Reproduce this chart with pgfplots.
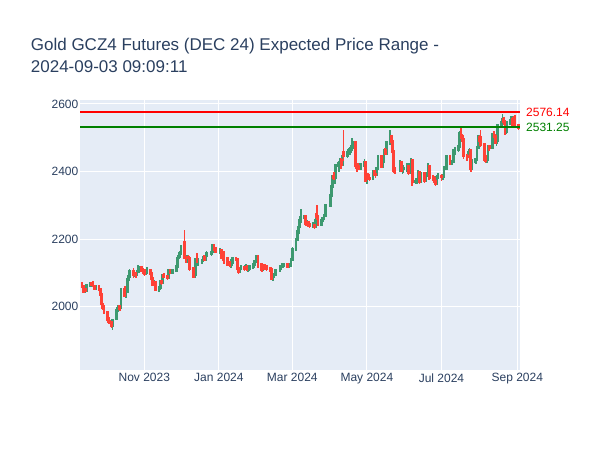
\documentclass[border=0pt]{standalone}
\usepackage{pgfplots}
\pgfplotsset{compat=1.18}
\usepackage{pgfplotstable}
\usepackage{fontspec}
\setmainfont{Liberation Sans}
\definecolor{plotbg}{HTML}{E5ECF6}
\definecolor{txt}{HTML}{2A3F5F}
\definecolor{inc}{HTML}{3D9970}
\definecolor{dec}{HTML}{FF4136}
\definecolor{lvlgreen}{HTML}{008000}
\definecolor{lvlred}{HTML}{FF0000}
% d = days since 2023-11-01
\pgfplotstableread{
d o h l c
-51 2066 2074 2056 2060
-50 2060 2063 2041 2045
-49 2046 2054 2040 2050
-48 2050 2056 2043 2048
-47 2048 2066 2045 2062
-44 2062 2071 2058 2068
-43 2068 2073 2062 2066
-42 2067 2076 2058 2062
-41 2060 2064 2050 2054
-40 2055 2064 2051 2060
-37 2060 2062 2046 2050
-36 2050 2053 2032 2036
-35 2036 2040 2002 2008
-34 2008 2012 1990 1996
-33 1998 2004 1978 1984
-30 1982 1986 1958 1962
-29 1962 1968 1950 1956
-28 1956 1962 1948 1954
-27 1954 1958 1936 1944
-26 1944 1964 1932 1960
-23 1966 1992 1962 1988
-22 1988 1998 1982 1994
-21 1994 2004 1990 2000
-20 2000 2004 1986 1994
-19 1996 2056 1994 2050
-16 2050 2062 2028 2034
-15 2034 2050 2026 2046
-14 2046 2084 2042 2080
-13 2080 2096 2074 2090
-12 2090 2112 2086 2104
-9 2104 2114 2086 2094
-8 2094 2104 2088 2098
-7 2098 2102 2086 2094
-6 2094 2108 2090 2104
-5 2104 2122 2100 2116
-2 2116 2120 2102 2108
-1 2108 2114 2098 2106
0 2106 2110 2090 2098
1 2098 2108 2094 2102
2 2102 2116 2098 2108
5 2108 2112 2092 2098
6 2098 2100 2078 2084
7 2084 2088 2062 2066
8 2066 2080 2062 2072
9 2072 2074 2046 2050
12 2050 2060 2044 2056
13 2056 2078 2050 2074
14 2074 2080 2064 2070
15 2070 2096 2066 2092
16 2092 2100 2084 2090
19 2090 2094 2080 2086
20 2086 2110 2082 2106
21 2106 2112 2096 2102
23 2102 2112 2098 2108
26 2108 2122 2104 2118
27 2118 2148 2114 2144
28 2144 2156 2138 2150
29 2150 2166 2144 2158
30 2158 2182 2152 2178
33 2190 2227 2140 2144
34 2144 2150 2128 2136
35 2136 2152 2130 2146
36 2146 2154 2138 2144
37 2144 2148 2106 2112
40 2112 2116 2088 2090
41 2090 2100 2084 2094
42 2094 2144 2088 2140
43 2140 2160 2130 2136
44 2136 2144 2120 2136
47 2136 2142 2126 2136
48 2136 2150 2132 2146
49 2146 2152 2134 2138
50 2138 2154 2134 2150
51 2150 2164 2146 2158
55 2158 2166 2150 2162
56 2162 2184 2158 2180
57 2180 2186 2166 2172
58 2172 2176 2158 2162
62 2164 2174 2156 2166
63 2166 2168 2142 2146
64 2146 2152 2136 2144
65 2144 2164 2126 2142
68 2142 2146 2120 2126
69 2126 2136 2122 2130
70 2130 2134 2118 2126
71 2126 2140 2116 2130
72 2130 2148 2126 2142
75 2142 2146 2136 2140
76 2140 2142 2108 2112
77 2112 2116 2098 2104
78 2104 2118 2100 2114
79 2114 2122 2108 2116
82 2116 2120 2106 2112
83 2112 2126 2108 2120
84 2120 2124 2106 2110
85 2110 2118 2104 2114
86 2114 2122 2108 2118
89 2118 2130 2112 2126
90 2126 2138 2120 2134
91 2134 2140 2124 2134
92 2134 2154 2130 2148
93 2148 2152 2116 2124
96 2124 2128 2104 2110
97 2110 2126 2106 2122
98 2122 2126 2110 2118
99 2118 2124 2112 2120
100 2120 2124 2106 2112
103 2112 2116 2104 2110
104 2110 2112 2080 2082
105 2082 2092 2076 2088
106 2088 2100 2084 2096
107 2096 2112 2092 2108
111 2108 2122 2104 2118
112 2118 2124 2110 2120
113 2120 2128 2114 2124
114 2124 2130 2118 2124
117 2124 2128 2114 2120
118 2120 2128 2116 2124
119 2124 2130 2118 2124
120 2124 2144 2118 2140
121 2140 2176 2136 2170
124 2170 2204 2166 2198
125 2198 2226 2194 2220
126 2220 2240 2214 2236
127 2236 2258 2230 2254
128 2254 2290 2248 2264
131 2264 2270 2254 2266
132 2266 2268 2240 2246
133 2246 2256 2240 2250
134 2250 2252 2236 2244
135 2244 2248 2232 2240
138 2240 2250 2234 2240
139 2240 2246 2230 2236
140 2236 2262 2232 2256
141 2272 2302 2258 2266
142 2266 2270 2240 2244
145 2244 2258 2240 2254
146 2254 2266 2250 2262
147 2262 2274 2256 2270
148 2270 2304 2266 2300
152 2300 2334 2294 2330
153 2330 2360 2326 2356
154 2356 2390 2350 2386
155 2386 2400 2376 2382
156 2382 2422 2364 2418
159 2418 2430 2400 2424
160 2424 2440 2416 2434
161 2434 2440 2408 2420
162 2420 2452 2416 2444
163 2458 2523 2430 2446
166 2446 2466 2440 2456
167 2456 2470 2446 2456
168 2456 2474 2448 2462
169 2462 2478 2454 2470
170 2470 2500 2462 2486
173 2486 2488 2408 2418
174 2418 2426 2400 2414
175 2414 2424 2404 2410
176 2410 2424 2404 2414
177 2414 2426 2406 2418
180 2418 2436 2410 2428
181 2428 2430 2370 2374
182 2374 2392 2364 2382
183 2382 2396 2374 2380
184 2380 2394 2372 2378
187 2378 2404 2374 2400
188 2400 2404 2386 2392
189 2392 2398 2380 2390
190 2390 2414 2386 2408
191 2408 2450 2404 2444
194 2444 2446 2410 2416
195 2416 2434 2410 2428
196 2428 2468 2424 2462
197 2462 2470 2450 2454
198 2454 2490 2448 2486
201 2486 2524 2480 2504
202 2504 2508 2480 2488
203 2488 2494 2454 2460
204 2460 2464 2396 2404
205 2404 2414 2394 2402
209 2402 2434 2398 2428
210 2428 2432 2398 2404
211 2404 2414 2394 2408
212 2408 2420 2396 2410
215 2410 2424 2400 2415
216 2415 2418 2390 2398
217 2398 2426 2394 2420
218 2420 2440 2414 2432
219 2432 2436 2356 2370
222 2370 2380 2362 2372
223 2372 2382 2364 2374
224 2374 2404 2368 2396
225 2396 2400 2362 2370
226 2370 2400 2366 2394
229 2394 2398 2366 2374
230 2374 2396 2370 2392
231 2392 2398 2384 2392
232 2392 2424 2388 2416
233 2416 2420 2376 2382
236 2382 2390 2372 2380
237 2380 2386 2366 2372
238 2372 2378 2358 2364
239 2364 2390 2360 2384
240 2384 2396 2378 2386
243 2386 2392 2372 2384
244 2384 2394 2376 2386
245 2386 2416 2382 2410
247 2410 2450 2406 2444
250 2444 2448 2418 2424
251 2424 2434 2418 2428
252 2428 2436 2420 2430
253 2430 2468 2426 2462
254 2462 2474 2450 2466
257 2466 2482 2458 2474
258 2474 2520 2470 2512
259 2512 2535 2496 2504
260 2504 2510 2488 2496
261 2496 2500 2438 2446
264 2446 2452 2432 2444
265 2444 2466 2440 2458
266 2458 2470 2450 2462
267 2462 2466 2400 2410
268 2410 2436 2406 2430
271 2430 2440 2422 2436
272 2436 2476 2432 2472
273 2472 2508 2466 2500
274 2500 2508 2484 2493
275 2500 2522 2474 2480
278 2480 2484 2430 2444
279 2444 2452 2424 2432
280 2432 2446 2426 2434
281 2434 2478 2430 2473
282 2473 2480 2462 2472
285 2472 2514 2468 2510
286 2510 2520 2498 2505
287 2505 2510 2482 2487
288 2487 2500 2476 2491
289 2491 2542 2488 2538
292 2538 2552 2530 2546
293 2546 2570 2540 2553
294 2553 2560 2538 2547
295 2547 2550 2508 2517
296 2517 2550 2512 2546
299 2546 2556 2538 2551
300 2551 2564 2546 2555
301 2555 2560 2528 2533
302 2533 2564 2530 2560
303 2560 2566 2532 2537
306 2537 2542 2524 2530
}\candles
\pgfplotsset{
  candle/.style n args={2}{draw=none, mark=none, forget plot,
    y filter/.expression={#1 ? y : nan},
    error bars/.cd, y dir=both, y explicit, error mark=none,
    error bar style={draw=#2, solid}},
}
\begin{document}
\begin{tikzpicture}
\useasboundingbox (0,0) rectangle (600bp,450bp);
\begin{axis}[
  at={(80bp,80bp)}, anchor=south west,
  scale only axis, width=440bp, height=270bp,
  xmin=-52.6, xmax=307.2, ymin=1812.6, ymax=2611.8,
  axis background/.style={fill=plotbg},
  axis line style={draw=none},
  major tick length=0pt,
  xmajorgrids, ymajorgrids,
  major grid style={white, line width=1bp},
  xtick={0,61,121,182,243,305},
  xticklabels={Nov 2023,Jan 2024,Mar 2024,May 2024,Jul 2024,Sep 2024},
  ytick={2000,2200,2400,2600},
  /pgf/number format/assume math mode=true,
  /pgf/number format/1000 sep={},
  tick label style={font=\fontsize{12bp}{14bp}\selectfont, text=txt},
  yticklabel style={inner xsep=1.5bp},
]
% increasing wicks
\addplot[candle={\thisrow{c}>=\thisrow{o}}{inc}, error bar style={line width=1.6bp}]
  table[x=d, y expr={(\thisrow{h}+\thisrow{l})/2}, y error expr={(\thisrow{h}-\thisrow{l})/2}] {\candles};
% increasing bodies
\addplot[candle={\thisrow{c}>=\thisrow{o}}{inc}, error bar style={line width=2.8bp, line cap=rect}]
  table[x=d, y expr={(\thisrow{o}+\thisrow{c})/2}, y error expr={abs(\thisrow{c}-\thisrow{o})/2}] {\candles};
% decreasing wicks
\addplot[candle={\thisrow{c}<\thisrow{o}}{dec}, error bar style={line width=1.6bp}]
  table[x=d, y expr={(\thisrow{h}+\thisrow{l})/2}, y error expr={(\thisrow{h}-\thisrow{l})/2}] {\candles};
% decreasing bodies
\addplot[candle={\thisrow{c}<\thisrow{o}}{dec}, error bar style={line width=2.8bp, line cap=rect}]
  table[x=d, y expr={(\thisrow{o}+\thisrow{c})/2}, y error expr={abs(\thisrow{c}-\thisrow{o})/2}] {\candles};
% level lines
\addplot[lvlred, line width=2bp, forget plot] coordinates {(-52.6,2576.14) (307.2,2576.14)};
\addplot[lvlgreen, line width=2bp, forget plot] coordinates {(-52.6,2531.25) (307.2,2531.25)};
\coordinate (lr) at (axis cs:307.2,2576.14);
\coordinate (lg) at (axis cs:307.2,2531.25);
\end{axis}
\node[anchor=west, inner sep=0pt, xshift=6bp, text=lvlred, font=\fontsize{12bp}{14bp}\selectfont] at (lr) {2576.14};
\node[anchor=west, inner sep=0pt, xshift=6bp, text=lvlgreen, font=\fontsize{12bp}{14bp}\selectfont] at (lg) {2531.25};
\node[anchor=base west, inner sep=0pt, text=txt, font=\fontsize{17bp}{20bp}\selectfont] at (30.7bp,399.3bp) {Gold GCZ4 Futures (DEC 24) Expected Price Range -};
\node[anchor=base west, inner sep=0pt, text=txt, font=\fontsize{17bp}{20bp}\selectfont] at (30.7bp,377.7bp) {2024-09-03 09:09:11};
\end{tikzpicture}
\end{document}
